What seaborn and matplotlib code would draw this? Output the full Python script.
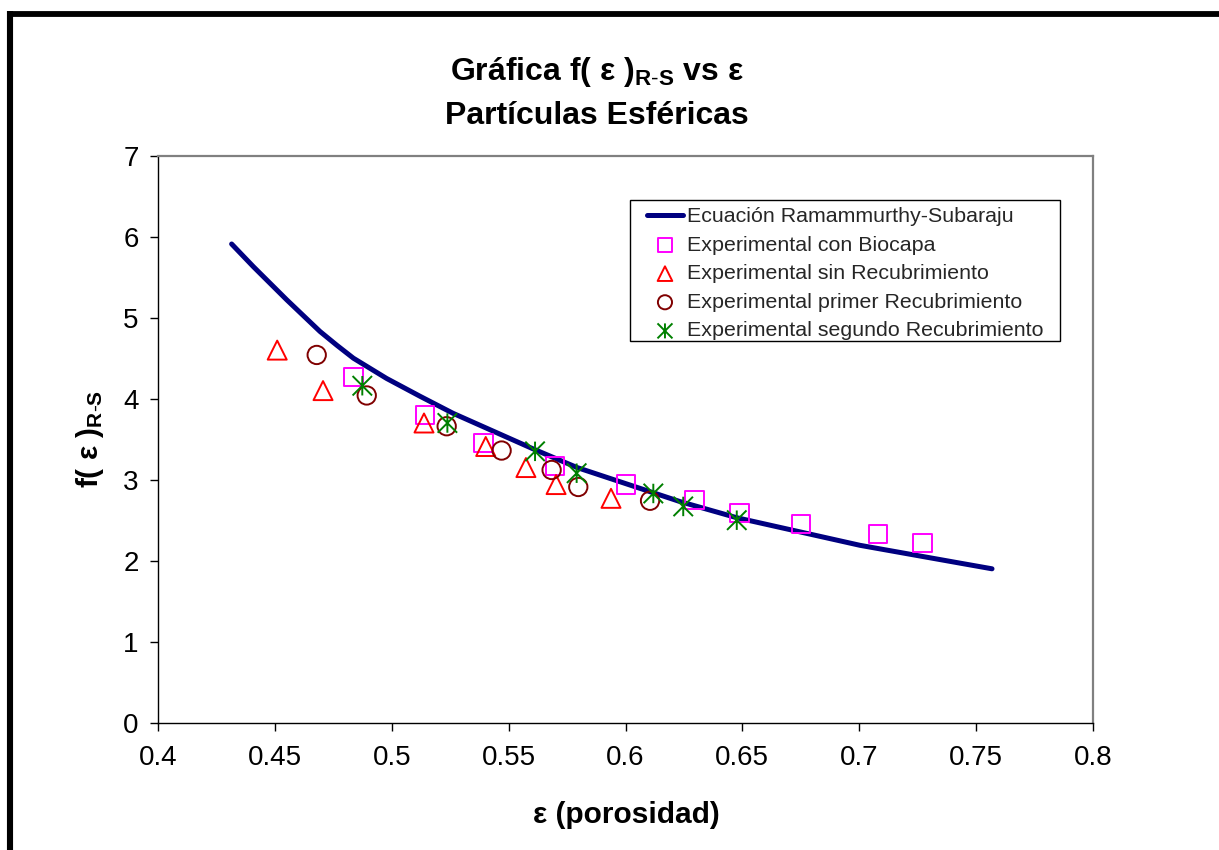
import numpy as np
import pandas as pd
import matplotlib
matplotlib.use("Agg")
import matplotlib.pyplot as plt
from matplotlib.path import Path
from matplotlib.lines import Line2D
from matplotlib.patches import Rectangle
import seaborn as sns

# Ramamurthy-Subbaraju equation, f(eps) along the porosity range
eq_eps = [0.4315, 0.4408, 0.4551, 0.4693, 0.4765, 0.4836, 0.4978, 0.5121, 0.5262,
          0.5613, 0.5793, 0.6233, 0.6477, 0.7003, 0.7431, 0.7568]
eq_f = [5.91, 5.63, 5.22, 4.83, 4.66, 4.50, 4.25, 4.03, 3.82,
        3.37, 3.15, 2.73, 2.53, 2.19, 1.97, 1.90]

# Experimental data sets
bio_eps = [0.4837, 0.5142, 0.5393, 0.5698, 0.6001, 0.6295, 0.6487, 0.6751, 0.7080, 0.7271]
bio_f = [4.27, 3.80, 3.45, 3.17, 2.94, 2.75, 2.59, 2.45, 2.33, 2.22]

sin_eps = [0.4510, 0.4706, 0.5138, 0.5402, 0.5574, 0.5703, 0.5938]
sin_f = [4.60, 4.10, 3.70, 3.41, 3.15, 2.94, 2.77]

primer_eps = [0.4679, 0.4893, 0.5235, 0.5470, 0.5684, 0.5798, 0.6105]
primer_f = [4.54, 4.04, 3.66, 3.36, 3.12, 2.91, 2.74]

segundo_eps = [0.4874, 0.5238, 0.5613, 0.5791, 0.6119, 0.6247, 0.6476]
segundo_f = [4.16, 3.70, 3.35, 3.08, 2.83, 2.67, 2.50]

x_ticks = [0.4, 0.45, 0.5, 0.55, 0.6, 0.65, 0.7, 0.75, 0.8]
x_tick_labels = ["0.4", "0.45", "0.5", "0.55", "0.6", "0.65", "0.7", "0.75", "0.8"]
y_ticks = [0, 1, 2, 3, 4, 5, 6, 7]

labels = ["Ecuación Ramammurthy-Subaraju",
          "Experimental con Biocapa",
          "Experimental sin Recubrimiento",
          "Experimental primer Recubrimiento",
          "Experimental segundo Recubrimiento"]

sns.set_theme(style="white")
plt.rcParams["font.family"] = ["Liberation Sans", "DejaVu Sans"]
plt.rcParams["mathtext.fontset"] = "custom"
plt.rcParams["mathtext.rm"] = "Liberation Sans"
plt.rcParams["mathtext.bf"] = "Liberation Sans:bold"
plt.rcParams["mathtext.it"] = "Liberation Sans:italic"

W, H = 1219, 850
fig = plt.figure(figsize=(W / 100, H / 100), dpi=100)
fig.patch.set_facecolor("white")

# plot area in pixel coordinates
x0, x1, y0, y1 = 158, 1093, 155.7, 722.7
ax = fig.add_axes([x0 / W, 1 - y1 / H, (x1 - x0) / W, (y1 - y0) / H])
ax.set_facecolor("white")

# asterisk marker: vertical stroke plus an X
star = Path([(0, -1), (0, 1), (-1, -1), (1, 1), (-1, 1), (1, -1)],
            [Path.MOVETO, Path.LINETO, Path.MOVETO, Path.LINETO, Path.MOVETO, Path.LINETO])

eq_df = pd.DataFrame({"eps": eq_eps, "f": eq_f})
sns.lineplot(data=eq_df, x="eps", y="f", ax=ax, color="#000080", linewidth=3.6,
             label=labels[0], sort=False)

series = [
    (bio_eps, bio_f, "s", "#FF00FF", 13.2),
    (sin_eps, sin_f, "^", "#FF0000", 13.7),
    (primer_eps, primer_f, "o", "#800000", 13.2),
    (segundo_eps, segundo_f, star, "#008000", 14.0),
]
for (ex, fy, mk, col, ms), lab in zip(series, labels[1:]):
    sns.scatterplot(x=ex, y=fy, ax=ax, marker=mk, s=ms ** 2,
                    facecolor="none", edgecolor=col, linewidth=1.4,
                    label=lab, zorder=3)

ax.set_xlim(0.4, 0.8)
ax.set_ylim(0, 7)
ax.set_xticks(x_ticks)
ax.set_xticklabels(x_tick_labels)
ax.set_yticks(y_ticks)
ax.set_xlabel("")
ax.set_ylabel("")
ax.tick_params(axis="both", direction="out", length=6, width=1, color="black",
               labelsize=20, labelcolor="black", bottom=True, left=True)
ax.tick_params(axis="y", pad=8)
ax.tick_params(axis="x", pad=10)

for side in ["left", "bottom"]:
    ax.spines[side].set_color("black")
    ax.spines[side].set_linewidth(1.0)
for side in ["top", "right"]:
    ax.spines[side].set_color("#808080")
    ax.spines[side].set_linewidth(1.6)
    ax.spines[side].set_visible(True)

# legend box
ax.add_patch(Rectangle(((630 - x0) / (x1 - x0), (y1 - 341) / (y1 - y0)),
                       (1060 - 630) / (x1 - x0), (341 - 200) / (y1 - y0),
                       transform=ax.transAxes, facecolor="white",
                       edgecolor="black", linewidth=1.0, zorder=4))
leg = ax.legend(loc="upper left",
                bbox_to_anchor=((647 - x0) / (x1 - x0), (y1 - 207) / (y1 - y0)),
                frameon=False, borderpad=0, borderaxespad=0,
                fontsize=15.4, handlelength=1.68, handletextpad=0.19,
                labelspacing=0.45, markerscale=0.77)
leg.set_zorder(5)

# titles and axis labels
fig.text(597 / W, 1 - 80 / H, r"Gráfica f( ε )$_{\mathbf{R\text{-}S}}$ vs ε",
         ha="center", va="baseline", fontsize=23, fontweight="bold", color="black")
fig.text(597 / W, 1 - 124 / H, "Partículas Esféricas",
         ha="center", va="baseline", fontsize=23, fontweight="bold", color="black")
fig.text(90 / W, 1 - 439 / H, r"f( ε )$_{\mathbf{R\text{-}S}}$", rotation=90,
         ha="center", va="center", fontsize=21.5, fontweight="bold", color="black")
fig.text(626 / W, 1 - 815 / H, "ε (porosidad)",
         ha="center", va="center", fontsize=21.5, fontweight="bold", color="black")

# outer chart border (top and left edges)
fig.add_artist(Line2D([7 / W, 1.0], [1 - 13.5 / H, 1 - 13.5 / H],
                      transform=fig.transFigure, color="black", linewidth=4.2,
                      solid_capstyle="butt"))
fig.add_artist(Line2D([10.3 / W, 10.3 / W], [1 - 11 / H, 0.0],
                      transform=fig.transFigure, color="black", linewidth=4.4,
                      solid_capstyle="butt"))

fig.savefig("out.png", dpi=100, facecolor="white")
